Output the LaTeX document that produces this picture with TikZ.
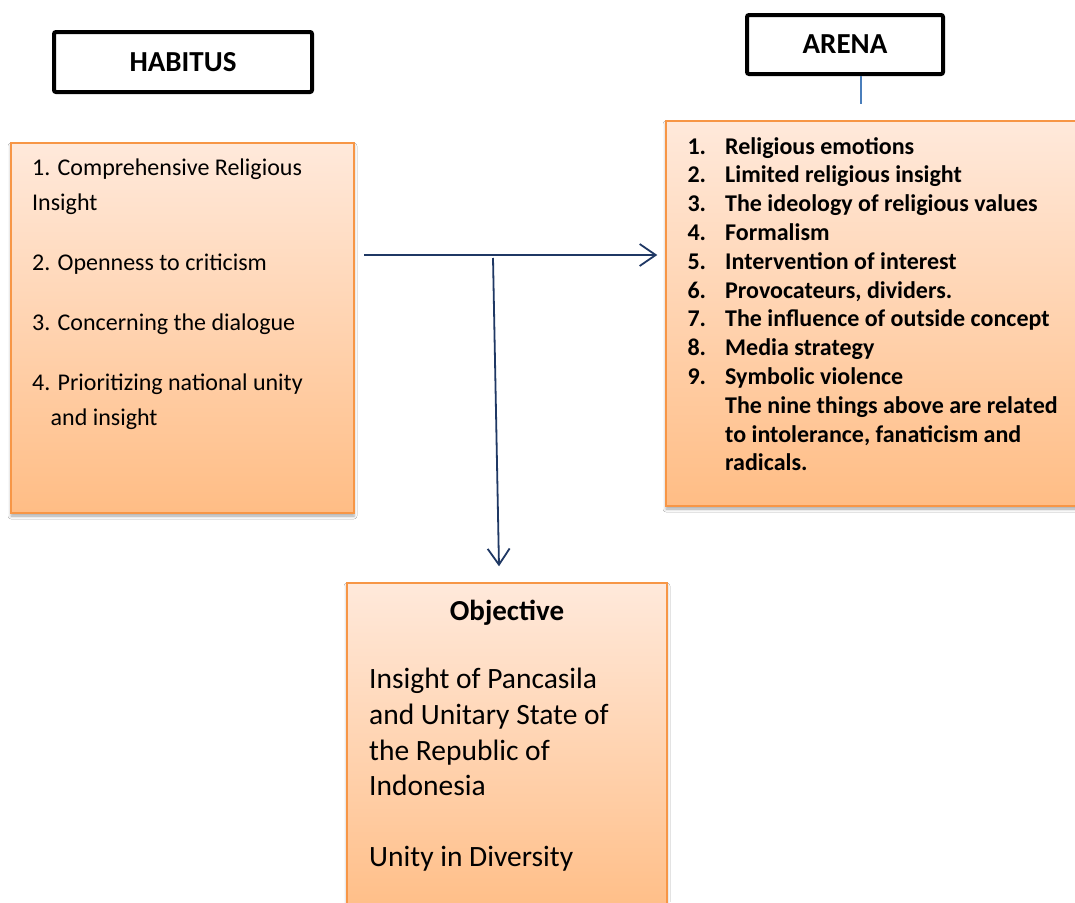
\documentclass[tikz,border=0pt]{standalone}
\usepackage{fontspec}
\setmainfont{Carlito}
\usetikzlibrary{arrows.meta,shadows.blur}
\definecolor{orangeborder}{HTML}{F79646}
\definecolor{ptop}{HTML}{FFE9DB}
\definecolor{pbot}{HTML}{FFBD85}
\definecolor{navy}{HTML}{1F3864}
\definecolor{steel}{HTML}{4A7EBB}
\begin{document}
\begin{tikzpicture}[x=1pt,y=-1pt,
 headbox/.style={draw=black,line width=4pt,rounded corners=2pt,fill=white,font=\fontsize{29}{34}\selectfont\bfseries,inner sep=0pt},
 panel/.style={draw=orangeborder,line width=1.5pt,top color=ptop,bottom color=pbot,
   blur shadow={shadow xshift=0pt,shadow yshift=-3pt,shadow blur radius=3pt,shadow opacity=35},inner sep=0pt},
 conn/.style={draw=navy,line width=1.8pt,-{Straight Barb[length=16pt,width=22pt]}},
 ltxt/.style={anchor=base west,inner sep=0pt,font=\fontsize{24}{28}\selectfont},
 atxt/.style={anchor=base west,inner sep=0pt,font=\fontsize{24}{28}\selectfont\bfseries},
 otxt/.style={anchor=base west,inner sep=0pt,font=\fontsize{29.5}{34}\selectfont},
]
\useasboundingbox (0,0) rectangle (1075,902);
\clip (0,0) rectangle (1075,902);
\fill[white] (0,0) rectangle (1075,902);

% heading boxes
\node[headbox,minimum width=258pt,minimum height=60pt] (habhd) at (183,62) {HABITUS};
\node[headbox,minimum width=196pt,minimum height=59pt] (arenahd) at (845,44.5) {ARENA};

% panels
\node[panel,minimum width=343pt,minimum height=370pt] (habbox) at (182.5,328) {};
\node[panel,minimum width=424pt,minimum height=385pt] (arenabox) at (878,313.5) {};
\node[panel,minimum width=320pt,minimum height=337pt] (objbox) at (507,751.5) {};

% habitus text
\node[ltxt] (l1) at (32,175.7) {1. Comprehensive Religious};
\node[ltxt] (l2) at (32,210) {Insight};
\node[ltxt] (l3) at (32,270) {2. Openness to criticism};
\node[ltxt] (l4) at (32,330) {3. Concerning the dialogue};
\node[ltxt] (l5) at (32,390) {4. Prioritizing national unity};
\node[ltxt] (l6) at (50.5,425) {and insight};

% arena text
\foreach \n/\t [count=\i from 0] in {1./Religious emotions,2./Limited religious insight,3./The ideology of religious values,4./Formalism,5./Intervention of interest,6./{Provocateurs, dividers.},7./The influence of outside concept,8./Media strategy,9./Symbolic violence}{
  \node[atxt] (an\i) at (687.3,154+28.8*\i) {\n};
  \node[atxt] (at\i) at (725,154+28.8*\i) {\t};
}
\node[atxt] (ax1) at (725,154+28.8*9) {The nine things above are related};
\node[atxt] (ax2) at (725,154+28.8*10) {to intolerance, fanaticism and};
\node[atxt] (ax3) at (725,154+28.8*11) {radicals.};

% objective text
\node[anchor=base,inner sep=0pt,font=\fontsize{29}{34}\selectfont\bfseries] (o0) at (507,620.7) {Objective};
\node[otxt] (o1) at (369,688.3) {Insight of Pancasila};
\node[otxt] (o2) at (369,724) {and Unitary State of};
\node[otxt] (o3) at (369,760) {the Republic of};
\node[otxt] (o4) at (369,795) {Indonesia};
\node[otxt] (o5) at (369,866.7) {Unity in Diversity};

% connectors
\coordinate (hstart) at (364,255);
\coordinate (jn) at (493,258);
\coordinate (ae) at (861,104);
\draw[conn] (hstart) -- ([xshift=-8pt]arenabox.west |- hstart);
\draw[conn] (jn) -- ([xshift=-8pt,yshift=16pt]objbox.north);
\draw[steel,line width=1.2pt] (arenahd.south -| ae) -- (ae);
\end{tikzpicture}
\end{document}
